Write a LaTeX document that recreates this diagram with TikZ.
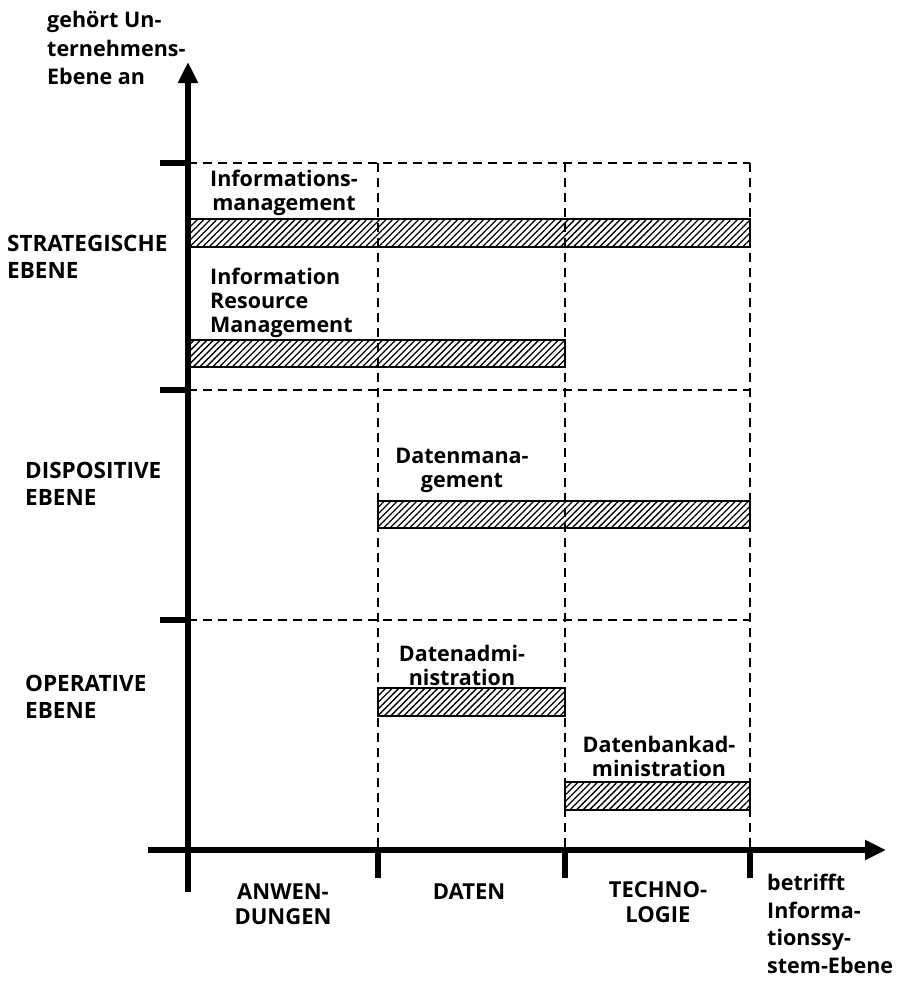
\documentclass[tikz,border=0pt]{standalone}
\usepackage{fontspec}
\setmainfont{Open Sans}
\usepackage{tikz}
\usetikzlibrary{arrows.meta,patterns.meta,positioning}

\begin{document}
\begin{tikzpicture}[x=1pt, y=-1pt,
  lbl/.style={font=\bfseries\fontsize{21.5}{24}\selectfont, inner sep=0pt, align=left},
  cell/.style={lbl, align=center},
  axis/.style={line width=5.5pt},
  tick/.style={line width=5.5pt},
  grid/.style={line width=2.6pt, dash pattern=on 9pt off 6pt},
  bar/.style={draw, line width=2pt,
              pattern={Lines[angle=45, distance=4.6pt, line width=1.3pt]}}
]
  \useasboundingbox (0,0) rectangle (898,983);

  % dashed grid
  \foreach \y in {163,390,620}
    \draw[grid] (188,\y) -- (750,\y);
  \foreach \x in {378,565,750}
    \draw[grid] (\x,163) -- (\x,850);

  % hatched bars
  \draw[bar] (188,219) rectangle (750,247);
  \draw[bar] (188,340) rectangle (565,367);
  \draw[bar] (378,501) rectangle (750,528);
  \draw[bar] (378,688) rectangle (565,716);
  \draw[bar] (565,782) rectangle (750,810);

  % axes with ticks
  \draw[axis, -{Triangle[length=21pt, width=19pt]}] (188,892) -- (188,62);
  \draw[axis, -{Triangle[length=21pt, width=19pt]}] (148,850) -- (886,850);
  \foreach \y in {163,390,620}
    \draw[tick] (160,\y) -- (188,\y);
  \foreach \x in {378,565,750}
    \draw[tick] (\x,850) -- (\x,878);

  % axis titles
  \node[lbl, anchor=west, font=\bfseries\fontsize{21.5}{28.5}\selectfont] (ytitle) at (47,48)
    {gehört Un-\\ternehmens-\\Ebene an};
  \node[lbl, anchor=west, font=\bfseries\fontsize{21.5}{27.5}\selectfont] (xtitle) at (767,924)
    {betrifft\\Informa-\\tionssy-\\stem-Ebene};

  % levels
  \node[lbl, anchor=west, font=\bfseries\fontsize{22.5}{27}\selectfont] (strat) at (7,257)
    {STRATEGISCHE\\EBENE};
  \node[lbl, anchor=west, font=\bfseries\fontsize{22.5}{27}\selectfont] (dispo) at (25,484)
    {DISPOSITIVE\\EBENE};
  \node[lbl, anchor=west, font=\bfseries\fontsize{22.5}{27}\selectfont] (oper) at (25,697)
    {OPERATIVE\\EBENE};

  % columns
  \node[cell, font=\bfseries\fontsize{22}{25}\selectfont] (anw)  at (283,904) {ANWEN-\\DUNGEN};
  \node[cell, font=\bfseries\fontsize{22}{25}\selectfont] (daten) at (469,892) {DATEN};
  \node[cell, font=\bfseries\fontsize{22}{25}\selectfont] (tech) at (658,902) {TECHNO-\\LOGIE};

  % bar captions
  \node[cell] (infman) at (284,193) {Informations-\\management};
  \node[lbl, anchor=west] (irm) at (210,303) {Information\\Resource\\Management};
  \node[cell] (datman) at (462,470) {Datenmana-\\gement};
  \node[cell] (datadm) at (462,665) {Datenadmi-\\nistration};
  \node[cell] (dbadm)  at (659,756) {Datenbankad-\\ministration};
\end{tikzpicture}
\end{document}
